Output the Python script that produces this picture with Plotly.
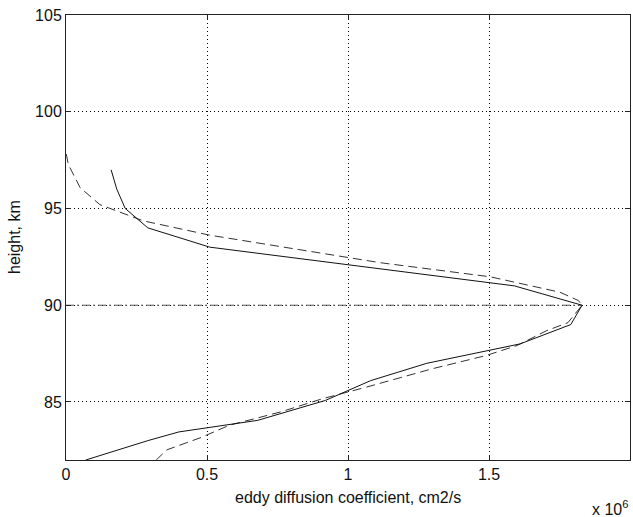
import plotly.graph_objects as go

# eddy diffusion coefficient (x 10^6 cm2/s) vs height (km)
solid_h = [82, 83, 83.45, 84.05, 85.08, 86.1, 87, 88, 89, 90, 91, 92, 93, 94, 95, 96, 97]
solid_k = [0.07, 0.29, 0.40, 0.68, 0.92, 1.08, 1.28, 1.61, 1.79, 1.83, 1.59, 1.05, 0.51, 0.29, 0.21, 0.18, 0.16]

dashed_h = [82, 82.52, 82.77, 83.14, 83.8, 84.48, 85.17, 85.5, 85.77, 86.72, 87.4, 87.92, 88.69, 89.1,
            90, 90.24, 90.67, 91.47, 92.2, 93.62, 94.36, 95.2, 96.08, 97.28, 97.9]
dashed_k = [0.32, 0.357, 0.404, 0.475, 0.58, 0.76, 0.91, 1.0, 1.066, 1.30, 1.49, 1.60, 1.705, 1.78,
            1.83, 1.817, 1.752, 1.504, 1.113, 0.51, 0.274, 0.12, 0.05, 0.008, 0.0]

peak_h = [90, 90]
peak_k = [0.0, 1.83]

x_ticks = [0, 0.5, 1, 1.5, 2]
x_labels = ["0", "0.5", "1", "1.5", "2"]
y_ticks = [85, 90, 95, 100, 105]
y_labels = ["85", "90", "95", "100", "105"]

FONT = "Liberation Sans, Arial, sans-serif"
FS = 16

fig = go.Figure()
fig.add_trace(go.Scatter(x=peak_k, y=peak_h, mode="lines",
                         line=dict(color="#555555", width=1, dash="8px,3px,2px,3px")))
fig.add_trace(go.Scatter(x=dashed_k, y=dashed_h, mode="lines",
                         line=dict(color="#333333", width=1, dash="9px,5px")))
fig.add_trace(go.Scatter(x=solid_k, y=solid_h, mode="lines",
                         line=dict(color="#111111", width=1)))

axis_common = dict(showline=True, linecolor="#222222", linewidth=1, mirror="ticks",
                   ticks="inside", ticklen=5, tickcolor="#222222",
                   showgrid=True, gridcolor="#000000", gridwidth=1, griddash="1px,3px",
                   zeroline=False, tickfont=dict(family=FONT, size=FS, color="#111111"))

fig.update_xaxes(range=[0, 2], tickvals=x_ticks, ticktext=x_labels, **axis_common)
fig.update_yaxes(range=[82, 105], tickvals=y_ticks, ticktext=y_labels, **axis_common)

fig.update_layout(
    width=633, height=517,
    margin=dict(l=66, r=3, t=15, b=57),
    paper_bgcolor="white", plot_bgcolor="white",
    showlegend=False,
    font=dict(family=FONT, size=FS, color="#111111"),
    annotations=[
        dict(text="eddy diffusion coefficient, cm2/s", xref="paper", yref="paper",
             x=0.5, y=0, xanchor="center", yanchor="top", yshift=-27, showarrow=False,
             font=dict(family=FONT, size=FS)),
        dict(text="height, km", xref="paper", yref="paper", textangle=-90,
             x=0, y=0.5, xanchor="right", yanchor="middle", xshift=-41, showarrow=False,
             font=dict(family=FONT, size=FS)),
        dict(text="x 10<sup>6</sup>", xref="paper", yref="paper",
             x=1, y=0, xanchor="right", yanchor="top", yshift=-36, showarrow=False,
             font=dict(family=FONT, size=FS)),
    ],
)

fig.write_html("out.html")
